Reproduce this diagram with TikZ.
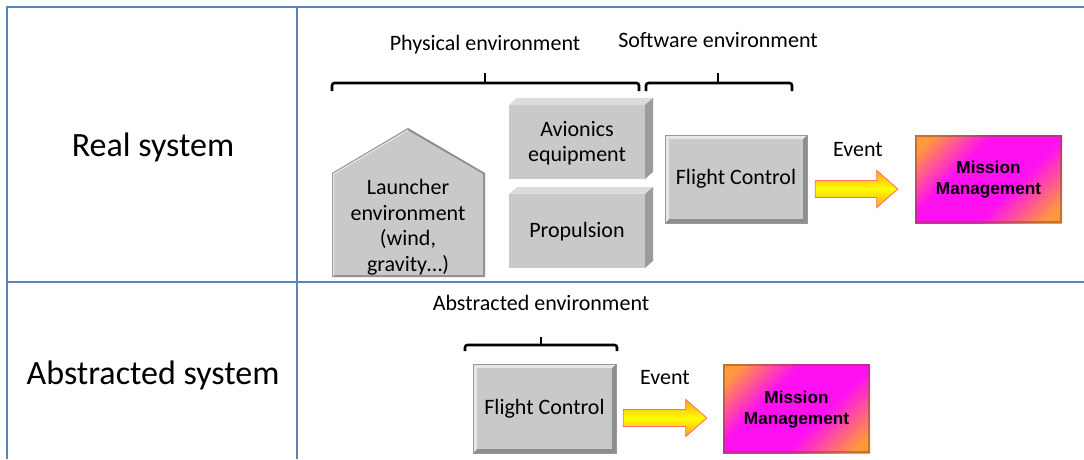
\documentclass[tikz,border=0pt]{standalone}
\usepackage{fontspec}
\setmainfont{Carlito}
\newfontfamily\arialf{Liberation Sans}
\usetikzlibrary{calc}
\definecolor{tblue}{HTML}{5B84B8}
\definecolor{boxgray}{HTML}{C9C9C9}
\definecolor{topgray}{HTML}{DCDCDC}
\definecolor{sidegray}{HTML}{9C9C9C}
\definecolor{litegray}{HTML}{E6E6E6}
\definecolor{darkgray2}{HTML}{8E8E8E}
\definecolor{mmorange}{HTML}{FF9A3C}
\definecolor{mmmag}{HTML}{FF10F0}
\definecolor{mmedge}{HTML}{8A4A2A}
\definecolor{shadred}{HTML}{A01010}
\definecolor{arrline}{HTML}{FF7060}
\definecolor{arryel}{HTML}{FFFF00}
\definecolor{arrorg}{HTML}{FFA020}
\pgfdeclarehorizontalshading{mmshade}{100bp}{color(0bp)=(mmorange); color(20bp)=(mmorange); color(38bp)=(mmmag); color(60bp)=(mmmag); color(80bp)=(mmorange); color(100bp)=(mmorange)}
\newcommand\extbox[4]{%
  \fill[topgray] (#1,#2) -- ({#1+8},{#2-7}) -- ({#3+8},{#2-7}) -- (#3,#2) -- cycle;
  \fill[sidegray] (#3,#2) -- ({#3+8},{#2-7}) -- ({#3+8},{#4-7}) -- (#3,#4) -- cycle;
  \fill[boxgray] (#1,#2) rectangle (#3,#4);}
\newcommand\bevelbox[4]{%
  \fill[darkgray2] (#1,#2) rectangle (#3,#4);
  \fill[litegray] (#1,#4) -- (#1,#2) -- (#3,#2) -- ({#3-4},{#2+4}) -- ({#1+4},{#2+4}) -- ({#1+4},{#4-4}) -- cycle;
  \fill[boxgray] ({#1+4},{#2+4}) rectangle ({#3-4},{#4-4});
  \draw[gray!80, line width=0.6pt] (#1,#2) rectangle (#3,#4);}
\newcommand\mmbox[4]{%
  \shade[shading=mmshade, shading angle=-45] (#1,#2) rectangle (#3,#4);
  \draw[mmedge, opacity=0.5, line width=2.5pt] ({#1+1.2},{#2+1.2}) rectangle ({#3-1.2},{#4-1.2});}
\newcommand\evarrow[2]{%
  \fill[shadred, xshift=2.5pt, yshift=-3pt] let \p1=(#1), \p2=(#2) in
    (\x1,\y1+8.5pt) -- (\x2-21pt,\y1+8.5pt) -- (\x2-21pt,\y1+18.5pt) -- (\x2,\y1) --
    (\x2-21pt,\y1-18.5pt) -- (\x2-21pt,\y1-8.5pt) -- (\x1,\y1-8.5pt) -- cycle;
  \shade[top color=arrorg, bottom color=arrorg, middle color=arryel, draw=arrline, line width=0.8pt]
    let \p1=(#1), \p2=(#2) in
    (\x1,\y1+8.5pt) -- (\x2-21pt,\y1+8.5pt) -- (\x2-21pt,\y1+18.5pt) -- (\x2,\y1) --
    (\x2-21pt,\y1-18.5pt) -- (\x2-21pt,\y1-8.5pt) -- (\x1,\y1-8.5pt) -- cycle;}
\begin{document}
\begin{tikzpicture}[x=1pt,y=-1pt,
  tbl/.style={tblue, line width=1.4pt},
  brk/.style={black, line width=2.6pt, rounded corners=2.5pt},
  txt/.style={inner sep=0pt, align=center, font=\fontsize{22}{25.5}\selectfont},
  big/.style={inner sep=0pt, font=\fontsize{34}{38}\selectfont},
  mmtxt/.style={inner sep=0pt, align=center, font=\arialf\bfseries\fontsize{17.2}{21}\selectfont}]
\useasboundingbox (0,0) rectangle (1084,459);
\fill[white] (0,0) rectangle (1084,459);
% table
\draw[tbl] (7,459) -- (7,7) -- (1084,7);
\draw[tbl] (297,7) -- (297,459);
\draw[tbl] (7,282) -- (1084,282);
\node[big] (real) at (153,147) {Real system};
\node[big] (abs) at (153,375) {Abstracted system};
% top labels and brackets
\node[txt] (phys) at (485,45) {Physical environment};
\node[txt] (soft) at (718,40) {Software environment};
\draw[brk] (332,91) -- (332,83) -- (639,83) -- (639,91);
\draw[brk] (485,84) -- (485,73);
\draw[brk] (646,91) -- (646,83) -- (792,83) -- (792,91);
\draw[brk] (718,84) -- (718,73);
% house
\fill[darkgray2] (332,277) -- (332,173) -- (408,128) -- (485,173) -- (485,277) -- cycle;
\fill[boxgray] (334,275) -- (334,174) -- (408,130.5) -- (483,174) -- (483,275) -- cycle;
\draw[litegray, line width=1.2pt] (333.5,276) -- (333.5,174) -- (408,130);
\node[txt] (launch) at (408,227) {Launcher\\environment\\(wind,\\gravity…)};
% avionics / propulsion
\extbox{509}{105}{645}{179}
\node[txt] (avio) at (577,143) {Avionics\\equipment};
\extbox{509}{194}{645}{268}
\node[txt] (prop) at (577,232) {Propulsion};
% top flight control / mission
\bevelbox{665}{135}{807}{223}
\node[txt, minimum width=142pt, minimum height=88pt] (fc1) at (736,179) {Flight Control};
\mmbox{915}{135}{1062}{223}
\node[mmtxt, minimum width=147pt, minimum height=88pt] (mm1) at (988.5,180) {Mission\\Management};
\node[txt] (ev1) at (858,150) {Event};
\coordinate (a1s) at ($(fc1.east)+(8,10)$);
\coordinate (a1e) at ($(mm1.west)+(-17,9)$);
\evarrow{a1s}{a1e}
% bottom
\node[txt] (absenv) at (541,303) {Abstracted environment};
\draw[brk] (465,351) -- (465,345) -- (617,345) -- (617,351);
\draw[brk] (541,346) -- (541,337);
\bevelbox{473}{364}{616}{453}
\node[txt, minimum width=143pt, minimum height=89pt] (fc2) at (544.5,408.5) {Flight Control};
\mmbox{723}{364}{870}{453}
\node[mmtxt, minimum width=147pt, minimum height=89pt] (mm2) at (796.5,410) {Mission\\Management};
\node[txt] (ev2) at (665,378) {Event};
\coordinate (a2s) at ($(fc2.east)+(7,9.5)$);
\coordinate (a2e) at ($(mm2.west)+(-16,8)$);
\evarrow{a2s}{a2e}
\end{tikzpicture}
\end{document}
